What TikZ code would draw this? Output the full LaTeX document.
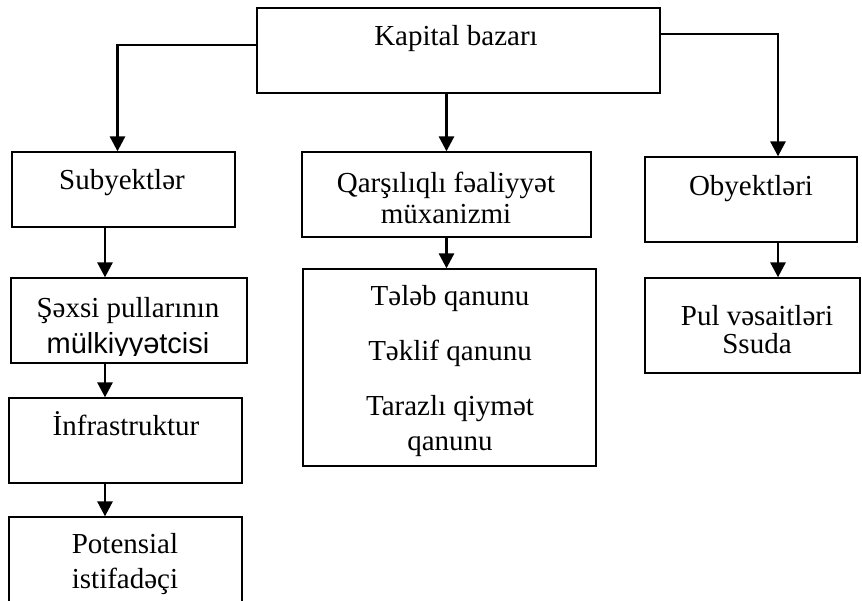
\documentclass[tikz,border=0pt]{standalone}
\usepackage{fontspec}
\setmainfont{Liberation Serif}
\newfontfamily\arialfont{Liberation Sans}
\usetikzlibrary{arrows.meta,fit}
\tikzset{
	kutu/.style={draw,line width=0.65pt,inner sep=0pt},
	yazi/.style={font=\fontsize{14.5}{17.5}\selectfont,align=center,anchor=base,inner sep=0pt},
	ox/.style={line width=1.4pt,-{Triangle[length=7.5pt,width=7.5pt]}}
}
\begin{document}
\begin{tikzpicture}[x=0.5pt,y=-0.5pt]
		\useasboundingbox (0,0) rectangle (862,600);
		\fill [white] (0,0) rectangle (862,600);
		\clip (0,0) rectangle (862,600);
		\node [kutu,fit={(257,8) (660,93)}] (kap) {};
		\node [kutu,fit={(12,152) (235,227)}] (subj) {};
		\node [kutu,fit={(11,278) (247,363)}] (sexsi) {};
		\node [kutu,fit={(9,398) (242,483)}] (infra) {};
		\node [kutu,fit={(9,517) (242,640)}] (poten) {};
		\node [kutu,fit={(302,152) (591,237)}] (qars) {};
		\node [kutu,fit={(303,269) (596,466)}] (qanun) {};
		\node [kutu,fit={(645,157) (857,242)}] (obj) {};
		\node [kutu,fit={(645,278) (860,373)}] (pul) {};
		\node [yazi] (kapT) at (456,45) {Kapital bazarı};
		\node [yazi] (subjT) at (122,189) {Subyektlər};
		\begin{scope}
			\clip (sexsi.north west) rectangle (247,355);
			\node [yazi] (sexsiT) at (128,353) {Şəxsi pullarının\\[0.5pt]{\arialfont mülkiyyətcisi}};
		\end{scope}
		\node [yazi] (infraT) at (126,435) {İnfrastruktur};
		\node [yazi] (potenT) at (125,588) {Potensial\\istifadəçi};
		\node [yazi] (qarsT) at (446,223) {Qarşılıqlı fəaliyyət\\[-2pt]müxanizmi};
		\node [yazi] (qanunT) at (450,450) {Tələb qanunu\\[10pt]Təklif qanunu\\[10pt]Tarazlı qiymət\\qanunu};
		\node [yazi] (objT) at (751,195) {Obyektləri};
		\node [yazi] (pulT) at (757,353) {Pul vəsaitləri\\[-3.5pt]Ssuda};
		\coordinate (sx) at (105,0);
		\coordinate (sg) at (778,0);
		\draw [ox] ([yshift=2.75pt]kap.west) -| ([xshift=-3pt]subj.north);
		\draw [ox] (qars.north |- kap.south) -- (qars.north);
		\draw [ox] ([yshift=8.25pt]kap.east) -| (sg |- obj.north);
		\draw [ox] (sx |- subj.south) -- (sx |- sexsi.north);
		\draw [ox] (sx |- sexsi.south) -- (sx |- infra.north);
		\draw [ox] (sx |- infra.south) -- (sx |- poten.north);
		\draw [ox] (qars.south) -- (qars.south |- qanun.north);
		\draw [ox] (sg |- obj.south) -- (sg |- pul.north);
	\end{tikzpicture}
\end{document}
